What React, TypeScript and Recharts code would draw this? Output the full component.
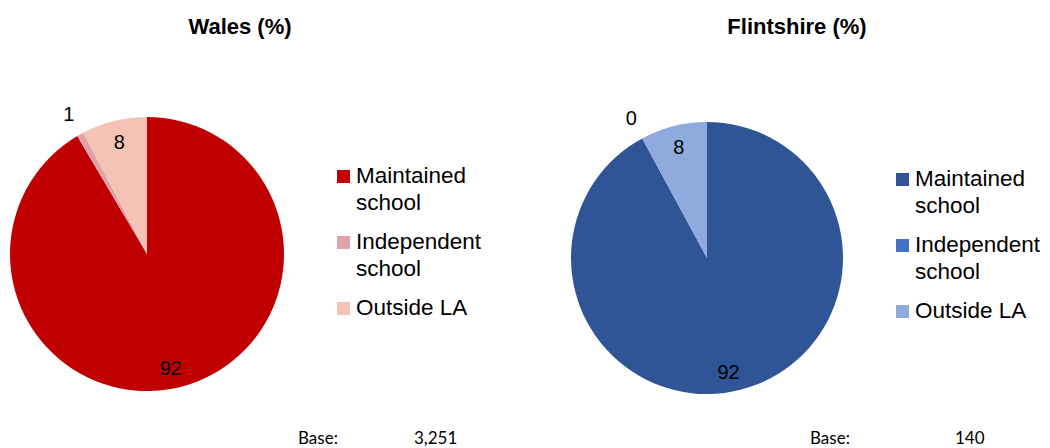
import React from "react";
import { PieChart, Pie, Cell } from "recharts";

const categories = ["Maintained school", "Independent school", "Outside LA"];
const legendLines = [["Maintained", "school"], ["Independent", "school"], ["Outside LA"]];
const walesValues = [91.5, 0.8, 7.7];
const walesLabels = ["92", "1", "8"];
const flintValues = [92.1, 0, 7.9];
const flintLabels = ["92", "0", "8"];
const walesColors = ["#C00000", "#E0A3A8", "#F4C3B5"];
const flintColors = ["#2F5597", "#4472C4", "#8FAADC"];
const walesBase = "3,251";
const flintBase = "140";

const FONT = "'Liberation Sans', Arial, sans-serif";
const BASE_FONT = "Lato, 'Open Sans', sans-serif";
const RAD = Math.PI / 180;

function makeData(values: number[], labels: string[]) {
  return categories.map((name, i) => ({ name, value: values[i], label: labels[i] }));
}

function makeLabel(labels: string[]) {
  return (props: any) => {
    const { cx, cy, midAngle, outerRadius, index } = props;
    const v = props.value;
    const big = v > 50;
    const r = v < 2 ? outerRadius * 1.17 : big ? outerRadius * 0.85 : outerRadius * 0.84;
    const ang = big ? midAngle - 3.5 : midAngle;
    const x = cx + r * Math.cos(-ang * RAD);
    const y = cy + r * Math.sin(-ang * RAD);
    return (
      <text
        x={x}
        y={y}
        textAnchor="middle"
        dominantBaseline="central"
        fontFamily={FONT}
        fontSize={20}
        fill="#000"
      >
        {labels[index]}
      </text>
    );
  };
}

function Panel(props: {
  left: number;
  title: string;
  titleX: number;
  values: number[];
  labels: string[];
  colors: string[];
  cx: number;
  cy: number;
  r: number;
  legendX: number;
  legendY: number;
  base: string;
  baseX: number;
  baseValX: number;
}) {
  const data = makeData(props.values, props.labels);
  return (
    <div style={{ position: "absolute", left: props.left, top: 0, width: 525, height: 448 }}>
      <div
        style={{
          position: "absolute",
          left: props.titleX - 120,
          width: 240,
          top: 13,
          textAlign: "center",
          fontFamily: FONT,
          fontWeight: "bold",
          fontSize: 22,
          lineHeight: "28px",
          color: "#000",
        }}
      >
        {props.title}
      </div>
      <div style={{ position: "absolute", left: 0, top: 0 }}>
        <PieChart width={525} height={448} margin={{ top: 0, right: 0, bottom: 0, left: 0 }}>
          <Pie
            data={data}
            dataKey="value"
            nameKey="name"
            cx={props.cx}
            cy={props.cy}
            outerRadius={props.r}
            startAngle={90}
            endAngle={-270}
            stroke="none"
            labelLine={false}
            label={makeLabel(props.labels)}
            isAnimationActive={false}
          >
            {data.map((d, i) => (
              <Cell key={d.name} fill={props.colors[i]} />
            ))}
          </Pie>
        </PieChart>
      </div>
      <div style={{ position: "absolute", left: props.legendX, top: props.legendY, fontFamily: FONT }}>
        {legendLines.map((lines, i) => (
          <div key={i} style={{ display: "flex", alignItems: "flex-start", marginBottom: 12 }}>
            <div
              style={{
                width: 13,
                height: 13,
                background: props.colors[i],
                marginTop: 8,
                marginRight: 6,
                flexShrink: 0,
              }}
            />
            <div style={{ fontSize: 22.5, lineHeight: "27px", color: "#000", whiteSpace: "nowrap" }}>
              {lines.map((l, j) => (
                <div key={j}>{l}</div>
              ))}
            </div>
          </div>
        ))}
      </div>
      <div
        style={{
          position: "absolute",
          left: props.baseX,
          top: 428,
          fontFamily: BASE_FONT,
          fontSize: 17,
          lineHeight: "20px",
          color: "#000",
        }}
      >
        Base:
      </div>
      <div
        style={{
          position: "absolute",
          left: props.baseValX,
          top: 428,
          fontFamily: BASE_FONT,
          fontSize: 17,
          lineHeight: "20px",
          color: "#000",
        }}
      >
        {props.base}
      </div>
    </div>
  );
}

export default function App() {
  return (
    <div
      style={{
        position: "absolute",
        left: 0,
        top: 0,
        width: 1050,
        height: 448,
        background: "#fff",
        overflow: "hidden",
      }}
    >
      <Panel
        left={0}
        title="Wales (%)"
        titleX={240}
        values={walesValues}
        labels={walesLabels}
        colors={walesColors}
        cx={147}
        cy={254}
        r={137}
        legendX={337}
        legendY={162}
        base={walesBase}
        baseX={298}
        baseValX={414}
      />
      <Panel
        left={525}
        title="Flintshire (%)"
        titleX={272}
        values={flintValues}
        labels={flintLabels}
        colors={flintColors}
        cx={182}
        cy={258}
        r={136}
        legendX={371}
        legendY={165}
        base={flintBase}
        baseX={285}
        baseValX={430}
      />
    </div>
  );
}
